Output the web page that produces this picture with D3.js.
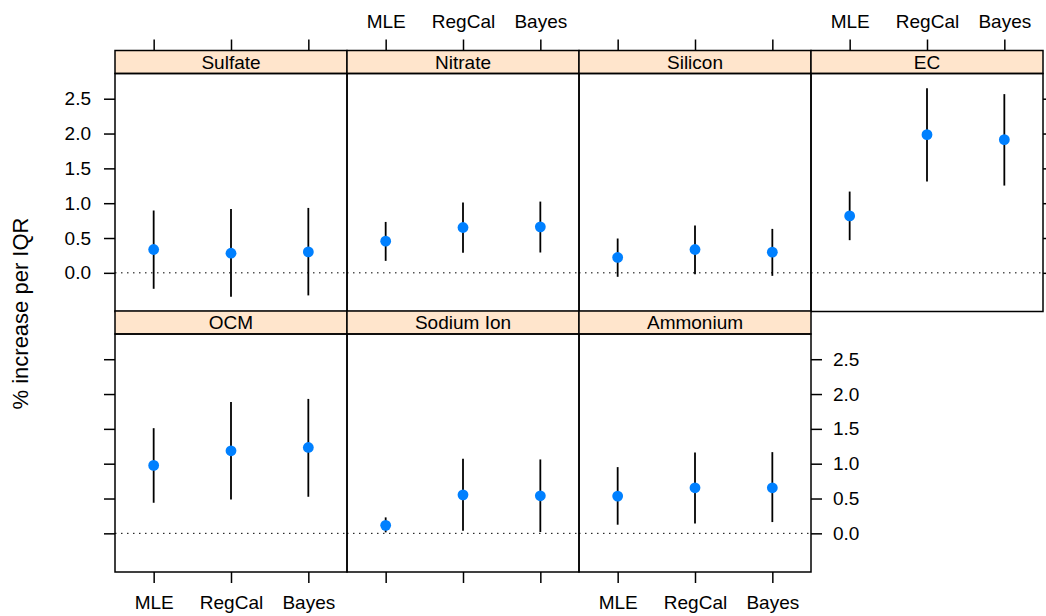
<!DOCTYPE html>
<html>
<head>
<meta charset="utf-8">
<script src="https://cdn.jsdelivr.net/npm/d3@7"></script>
<style>
  body { margin: 0; background: #fff; }
  text { font-family: "Liberation Sans", Arial, sans-serif; fill: #000; }
</style>
</head>
<body>
<svg id="chart" width="1046" height="616"></svg>
<script>
var species = ["Sulfate", "Nitrate", "Silicon", "EC", "OCM", "Sodium Ion", "Ammonium"];
var methods = ["MLE", "RegCal", "Bayes"];
var yTicks = [0, 0.5, 1.0, 1.5, 2.0, 2.5];

// estimate, lower and upper limits per species (MLE, RegCal, Bayes)
var est = [
  [0.335, 0.282, 0.301],
  [0.455, 0.651, 0.660],
  [0.221, 0.335, 0.297],
  [0.817, 1.984, 1.912],
  [0.975, 1.185, 1.233],
  [0.115, 0.553, 0.539],
  [0.535, 0.654, 0.654]
];
var lower = [
  [-0.229, -0.344, -0.324],
  [0.172, 0.287, 0.292],
  [-0.057, -0.019, -0.043],
  [0.469, 1.310, 1.253],
  [0.439, 0.487, 0.525],
  [0.014, 0.038, 0.019],
  [0.124, 0.143, 0.162]
];
var upper = [
  [0.895, 0.918, 0.932],
  [0.731, 1.009, 1.023],
  [0.493, 0.679, 0.631],
  [1.167, 2.652, 2.566],
  [1.510, 1.887, 1.930],
  [0.229, 1.070, 1.061],
  [0.951, 1.161, 1.166]
];

var left = 115, colW = 232, stripH = 23, panelH = 238;
var rowTop = [50.5, 311];
var nCol = 4;

var svg = d3.select("#chart");

var x = d3.scalePoint().domain(methods).range([0, colW]).padding(0.5);
var y = d3.scaleLinear().domain([-0.555, 2.862]).range([panelH, 0]);

function fmt(d) { return d3.format(".1f")(d); }

species.forEach(function(name, i) {
  var row = Math.floor(i / nCol), col = i % nCol;
  var gx = left + col * colW, sy = rowTop[row];
  var g = svg.append("g").attr("transform", "translate(" + gx + "," + sy + ")");

  // strip
  g.append("rect")
    .attr("width", colW).attr("height", stripH)
    .style("fill", "#ffe5cc").style("stroke", "#000").style("stroke-width", 1.5);
  g.append("text")
    .attr("x", colW / 2).attr("y", stripH / 2).attr("dy", "0.36em")
    .attr("text-anchor", "middle").style("font-size", "19px")
    .text(name);

  var p = g.append("g").attr("transform", "translate(0," + stripH + ")");

  p.append("line")
    .attr("x1", 0).attr("x2", colW)
    .attr("y1", y(0)).attr("y2", y(0))
    .style("stroke", "#000").style("stroke-width", 1)
    .style("stroke-dasharray", "1.5,4.5");

  var pts = methods.map(function(m, j) {
    return { m: m, e: est[i][j], lo: lower[i][j], hi: upper[i][j] };
  });

  p.selectAll("line.ci").data(pts).enter().append("line")
    .attr("class", "ci")
    .attr("x1", function(d) { return x(d.m); })
    .attr("x2", function(d) { return x(d.m); })
    .attr("y1", function(d) { return y(d.lo); })
    .attr("y2", function(d) { return y(d.hi); })
    .style("stroke", "#000").style("stroke-width", 1.8);

  p.selectAll("circle").data(pts).enter().append("circle")
    .attr("cx", function(d) { return x(d.m); })
    .attr("cy", function(d) { return y(d.e); })
    .attr("r", 5.4)
    .style("fill", "#0080ff");

  p.append("rect")
    .attr("width", colW).attr("height", panelH)
    .style("fill", "none").style("stroke", "#000").style("stroke-width", 1.5);

  // axes, alternating like lattice
  if (row === 0) {
    var top = d3.axisTop(x).tickSize(11).tickSizeOuter(0).tickPadding(11.5);
    var ga = g.append("g").call(top);
    if (col % 2 === 0) ga.selectAll("text").remove();
    styleAxis(ga);
  }
  if (row === 1) {
    var bot = d3.axisBottom(x).tickSize(11).tickSizeOuter(0).tickPadding(12.5);
    var gb = p.append("g").attr("transform", "translate(0," + panelH + ")").call(bot);
    if (col % 2 === 1) gb.selectAll("text").remove();
    styleAxis(gb);
  }
  if (col === 0) {
    var la = d3.axisLeft(y).tickValues(yTicks).tickFormat(fmt).tickSize(11).tickSizeOuter(0).tickPadding(13);
    var gl = p.append("g").call(la);
    if (row === 1) gl.selectAll("text").remove();
    styleAxis(gl);
  }
  var lastInRow = (row === 0 && col === 3) || (row === 1 && i === species.length - 1);
  if (lastInRow) {
    var ra = d3.axisRight(y).tickValues(yTicks).tickFormat(fmt).tickSize(11).tickSizeOuter(0).tickPadding(11);
    var gr = p.append("g").attr("transform", "translate(" + colW + ",0)").call(ra);
    if (row === 0) gr.selectAll("text").remove();
    styleAxis(gr);
  }
});

function styleAxis(a) {
  a.select(".domain").remove();
  a.selectAll("line").style("stroke", "#000").style("stroke-width", 1.5);
  a.selectAll("text")
    .style("font-family", "'Liberation Sans', Arial, sans-serif")
    .style("font-size", "19px").style("fill", "#000");
}

svg.append("text")
  .attr("transform", "translate(28,313.5) rotate(-90)")
  .attr("text-anchor", "middle")
  .style("font-size", "22px")
  .text("% increase per IQR");
</script>
</body>
</html>
